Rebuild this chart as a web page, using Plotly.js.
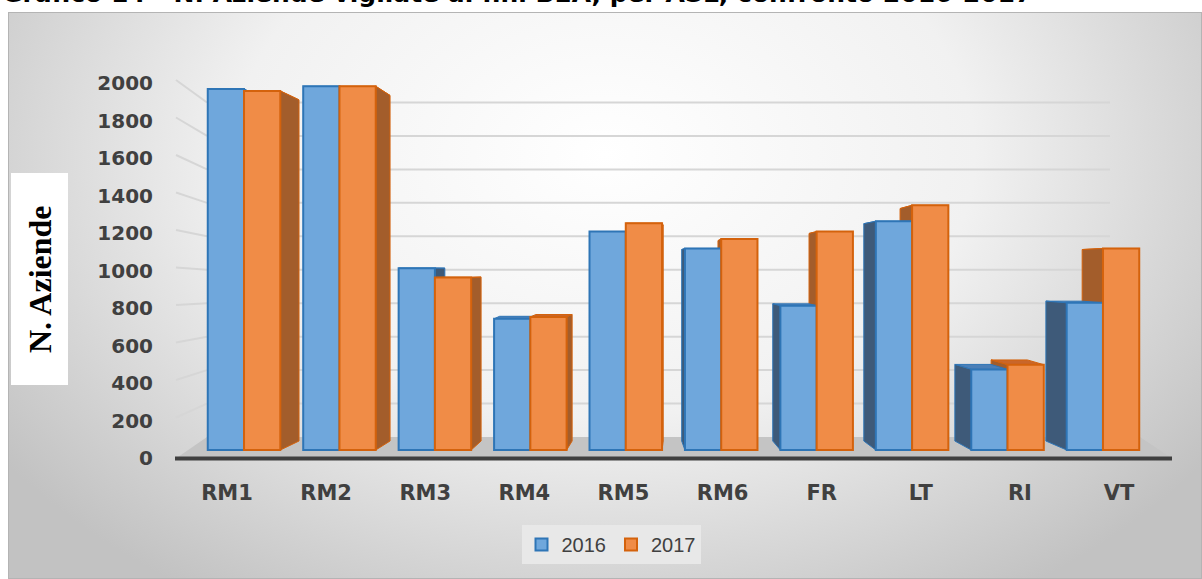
<!DOCTYPE html>
<html>
<head>
<meta charset="utf-8">
<script src="https://cdn.plot.ly/plotly-3.0.1.min.js"></script>
<style>
html,body{margin:0;padding:0;background:#ffffff;}
#chart{width:1202px;height:579px;}
</style>
</head>
<body>
<div id="chart"></div>
<script>
// ---- data ----
const categories = ['RM1','RM2','RM3','RM4','RM5','RM6','FR','LT','RI','VT'];
const seriesNames = ['2016','2017'];
const values2016 = [1925,1940,970,700,1165,1075,770,1220,430,785];
const values2017 = [1915,1940,920,710,1210,1125,1165,1305,455,1075];
const yTickValues = [0,200,400,600,800,1000,1200,1400,1600,1800,2000];
const chartTitle = 'Grafico 14 - N. Aziende vigilate ai fini BEA, per ASL, confronto 2016-2017';
const yAxisTitle = 'N. Aziende';

// ---- geometry helpers (pixel -> paper) ----
const W = 1202, H = 579;
const L = 170, R = 1180, T = 60, B = 458;
const PW = R - L, PH = B - T;
const fx = p => (p - L) / PW;
const fy = p => (B - p) / PH;

const blueFill = '#6fa7dc', blueLine = '#2e75b6', blueSide = '#3e5a79', blueTop = '#4a7fb8';
const orangeFill = '#f08c47', orangeLine = '#d4620c', orangeSide = '#a35d2b', orangeTop = '#c9662a';
const barW = 0.38;
const vanish = 4.26, depthK = 0.046, backRise = 48, backScale = 0.95;

// ---- background gradient ----
const bgSvg = '<svg xmlns="http://www.w3.org/2000/svg" width="1194" height="567" viewBox="0 0 1194 567">' +
  '<defs><radialGradient id="g" cx="0.5" cy="0.25" r="0.62" gradientTransform="translate(0.5,0.25) scale(1,1.5) translate(-0.5,-0.25)">' +
  '<stop offset="0" stop-color="#ffffff"/><stop offset="0.5" stop-color="#f1f1f1"/><stop offset="1" stop-color="#c2c2c2"/>' +
  '</radialGradient></defs><rect x="0.5" y="0.5" width="1193" height="566" fill="url(#g)" stroke="#b4b4b4"/></svg>';

const shapes = [];
// y title white box
shapes.push({type:'rect', xref:'paper', yref:'paper', x0:fx(11), x1:fx(68), y0:fy(385), y1:fy(173),
  fillcolor:'#ffffff', line:{width:0}, layer:'below'});
// floor
shapes.push({type:'path', xref:'paper', yref:'paper', layer:'below', fillcolor:'#c4c4c4', line:{width:0},
  path:`M ${fx(178)} ${fy(457)} L ${fx(207)} ${fy(437)} L ${fx(1140)} ${fy(437)} L ${fx(1170)} ${fy(457)} Z`});
// back wall gridlines (on back-wall scale y3)
yTickValues.filter(v => v > 0).forEach(v => {
  shapes.push({type:'line', xref:'paper', yref:'y3', x0:fx(207), x1:fx(1110), y0:v, y1:v,
    line:{color:'#d6d6d6', width:2}, layer:'below'});
  // side wall slanted lines
  shapes.push({type:'line', xref:'paper', yref:'paper', x0:fx(176), x1:fx(207),
    y0:fy(458 - 0.1875 * v - 3), y1:fy(437 - 0.16725 * v), line:{color:'#d6d6d6', width:2}, layer:'below'});
});
// axis base line
shapes.push({type:'line', xref:'paper', yref:'paper', x0:fx(175), x1:fx(1172), y0:fy(458.5), y1:fy(458.5),
  line:{color:'#3f3f3f', width:4}, layer:'below'});

// 3D side and top faces, derived from data values through the bar axes
function sidePath(xFront, dir, d, v) {
  const xb = xFront + dir * d;
  return `M ${xFront} 0 L ${xb} ${backRise} L ${xb} ${backRise + backScale * v} L ${xFront} ${v} Z`;
}
function topPath(xLeft, dir, d, v) {
  const yb = backRise + backScale * v;
  return `M ${xLeft} ${v} L ${xLeft + barW} ${v} L ${xLeft + barW + dir * d} ${yb} L ${xLeft + dir * d} ${yb} Z`;
}
function face(path, fill, line) {
  return {type:'path', xref:'x', yref:'y', layer:'below', fillcolor:fill, line:{color:line, width:1}, path:path};
}
categories.forEach((c, i) => {
  const d = depthK * Math.abs(i - vanish);
  const dir = i < vanish ? 1 : -1;
  const vb = values2016[i], vo = values2017[i];
  if (dir > 0) {
    shapes.push(face(topPath(i - barW, dir, d, vb), blueTop, blueLine));
    shapes.push(face(sidePath(i, 1, d, vb), blueSide, blueLine));
    shapes.push(face(topPath(i, dir, d, vo), orangeTop, orangeLine));
    shapes.push(face(sidePath(i + barW, 1, d, vo), orangeSide, orangeLine));
  } else {
    shapes.push(face(topPath(i, dir, d, vo), orangeTop, orangeLine));
    shapes.push(face(sidePath(i, -1, d, vo), orangeSide, orangeLine));
    shapes.push(face(topPath(i - barW, dir, d, vb), blueTop, blueLine));
    shapes.push(face(sidePath(i - barW, -1, d, vb), blueSide, blueLine));
  }
});

const tickFont = {family:'DejaVu Sans', size:20, color:'#404040', weight:'bold'};

const traces = [
  {type:'bar', name:seriesNames[0], x:categories, y:values2016, offset:-barW, width:barW,
   marker:{color:blueFill, line:{color:blueLine, width:2}}, xaxis:'x', yaxis:'y', hoverinfo:'skip'},
  {type:'bar', name:seriesNames[1], x:categories, y:values2017, offset:0, width:barW,
   marker:{color:orangeFill, line:{color:orangeLine, width:2}}, xaxis:'x', yaxis:'y', hoverinfo:'skip'},
  {type:'scatter', mode:'markers', x:categories, y:categories.map(() => null), xaxis:'x2', yaxis:'y', showlegend:false, hoverinfo:'skip'},
  {type:'scatter', mode:'markers', x:[categories[0]], y:[null], xaxis:'x', yaxis:'y2', showlegend:false, hoverinfo:'skip'},
  {type:'scatter', mode:'markers', x:[categories[0]], y:[null], xaxis:'x', yaxis:'y3', showlegend:false, hoverinfo:'skip'}
];

const layout = {
  width: W, height: H,
  margin: {l:L, r:W - R, t:T, b:H - B, pad:0},
  paper_bgcolor:'#ffffff', plot_bgcolor:'rgba(0,0,0,0)',
  barmode:'overlay', hovermode:false,
  xaxis: {type:'category', range:[-(244 - L) / 95.4, 9 + (R - 1103) / 95.4], showticklabels:false,
    showgrid:false, zeroline:false, showline:false, ticks:''},
  xaxis2: {type:'category', overlaying:'x', anchor:'y', side:'bottom',
    range:[-(227 - L) / 99.1, 9 + (R - 1119) / 99.1], showgrid:false, zeroline:false, showline:false, ticks:'',
    tickfont:{family:'DejaVu Sans', size:21, color:'#404040', weight:'bold'}, ticklabelstandoff:20},
  yaxis: {range:[-8 / 0.1875, (450 - T) / 0.1875], showticklabels:false, showgrid:false, zeroline:false, ticks:''},
  yaxis2: {overlaying:'y', anchor:'x', side:'left', range:[0, (B - T) / 0.1875], tickmode:'array', tickvals:yTickValues,
    showgrid:false, zeroline:false, showline:false, ticks:'', tickfont:tickFont, ticklabelstandoff:16},
  yaxis3: {overlaying:'y', anchor:'x', range:[-(B - 437) / 0.16725, (437 - T) / 0.16725], visible:false,
    showgrid:false, zeroline:false},
  legend: {orientation:'h', xref:'container', yref:'container', x:611 / W, xanchor:'center',
    y:1 - 525 / H, yanchor:'top', bgcolor:'#e8e8e8', borderwidth:0,
    font:{family:'Liberation Sans', size:20, color:'#404040'}},
  images: [{source:'data:image/svg+xml;charset=utf-8,' + encodeURIComponent(bgSvg), xref:'paper', yref:'paper',
    x:fx(8), y:fy(12), sizex:(W - 8) / PW, sizey:(H - 12) / PH, xanchor:'left', yanchor:'top',
    sizing:'stretch', layer:'below'}],
  shapes: shapes,
  annotations: [
    {text:chartTitle, xref:'paper', yref:'paper', x:fx(0), y:fy(10.5), xanchor:'left', yanchor:'bottom',
     showarrow:false, font:{family:'DejaVu Sans', size:25, color:'#000000', weight:'bold'}},
    {text:yAxisTitle, xref:'paper', yref:'paper', x:fx(40), y:fy(279), xanchor:'center', yanchor:'middle',
     textangle:-90, showarrow:false, font:{family:'Liberation Serif', size:32, color:'#000000', weight:'bold'}}
  ]
};

Plotly.newPlot('chart', traces, layout, {displayModeBar:false, staticPlot:true});
</script>
</body>
</html>
